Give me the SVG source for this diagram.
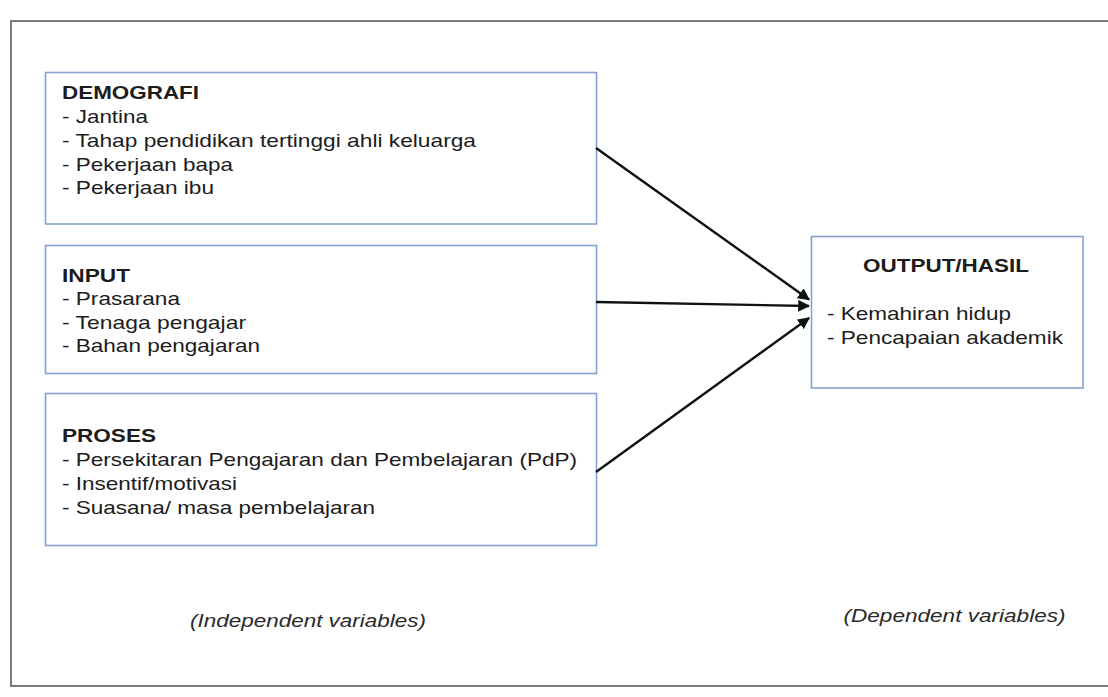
<svg xmlns="http://www.w3.org/2000/svg" width="1108" height="697" viewBox="0 0 1108 697">
<defs>
<style>
.frame{fill:none;stroke:#7a7a7a;stroke-width:2}
.box{fill:#fff;stroke:#86a1cf;stroke-width:1.6}
text{font-family:"Liberation Sans",Arial,sans-serif;font-size:19px;fill:#1c1c1c}
.b{font-weight:bold}
.i{font-style:italic;fill:#2a2a2a}
.conn{stroke:#111;stroke-width:2.4;fill:none}
</style>
<marker id="ah" viewBox="0 0 10 10" refX="9" refY="5" markerWidth="5" markerHeight="5" orient="auto" markerUnits="strokeWidth">
<path d="M0,0 L10,5 L0,10 z" fill="#111"/>
</marker>
</defs>
<rect width="1108" height="697" fill="#fff"/>
<path class="frame" d="M1110,21 H11 V686 H1110"/>
<g id="demografi">
<rect class="box" x="45.5" y="72.5" width="551" height="151.5"/>
<text class="b" x="62" y="99" textLength="137" lengthAdjust="spacingAndGlyphs">DEMOGRAFI</text>
<text x="62" y="123" textLength="86" lengthAdjust="spacingAndGlyphs">- Jantina</text>
<text x="62" y="147" textLength="414" lengthAdjust="spacingAndGlyphs">- Tahap pendidikan tertinggi ahli keluarga</text>
<text x="62" y="170.5" textLength="171" lengthAdjust="spacingAndGlyphs">- Pekerjaan bapa</text>
<text x="62" y="194" textLength="152" lengthAdjust="spacingAndGlyphs">- Pekerjaan ibu</text>
</g>
<g id="input">
<rect class="box" x="45.5" y="245.5" width="551" height="128"/>
<text class="b" x="62" y="281.5" textLength="68" lengthAdjust="spacingAndGlyphs">INPUT</text>
<text x="62" y="305" textLength="118" lengthAdjust="spacingAndGlyphs">- Prasarana</text>
<text x="62" y="328.5" textLength="184" lengthAdjust="spacingAndGlyphs">- Tenaga pengajar</text>
<text x="62" y="352" textLength="198" lengthAdjust="spacingAndGlyphs">- Bahan pengajaran</text>
</g>
<g id="proses">
<rect class="box" x="45.5" y="393.5" width="551" height="152"/>
<text class="b" x="62" y="442" textLength="94" lengthAdjust="spacingAndGlyphs">PROSES</text>
<text x="62" y="466" textLength="515" lengthAdjust="spacingAndGlyphs">- Persekitaran Pengajaran dan Pembelajaran (PdP)</text>
<text x="62" y="490" textLength="175" lengthAdjust="spacingAndGlyphs">- Insentif/motivasi</text>
<text x="62" y="513.5" textLength="313" lengthAdjust="spacingAndGlyphs">- Suasana/ masa pembelajaran</text>
</g>
<g id="output">
<rect class="box" x="811.5" y="236.5" width="271.5" height="151.5"/>
<text class="b" x="946" y="272" text-anchor="middle" textLength="166" lengthAdjust="spacingAndGlyphs">OUTPUT/HASIL</text>
<text x="827" y="320" textLength="184" lengthAdjust="spacingAndGlyphs">- Kemahiran hidup</text>
<text x="827" y="343.5" textLength="236" lengthAdjust="spacingAndGlyphs">- Pencapaian akademik</text>
</g>
<g id="connectors">
<line class="conn" x1="596" y1="148" x2="809" y2="299.5" marker-end="url(#ah)"/>
<line class="conn" x1="596" y1="302" x2="809" y2="306" marker-end="url(#ah)"/>
<line class="conn" x1="596" y1="472" x2="809" y2="318" marker-end="url(#ah)"/>
</g>
<g id="labels">
<text class="i" x="308" y="627" text-anchor="middle" textLength="236" lengthAdjust="spacingAndGlyphs">(Independent variables)</text>
<text class="i" x="954.5" y="622" text-anchor="middle" textLength="222" lengthAdjust="spacingAndGlyphs">(Dependent variables)</text>
</g>
</svg>
